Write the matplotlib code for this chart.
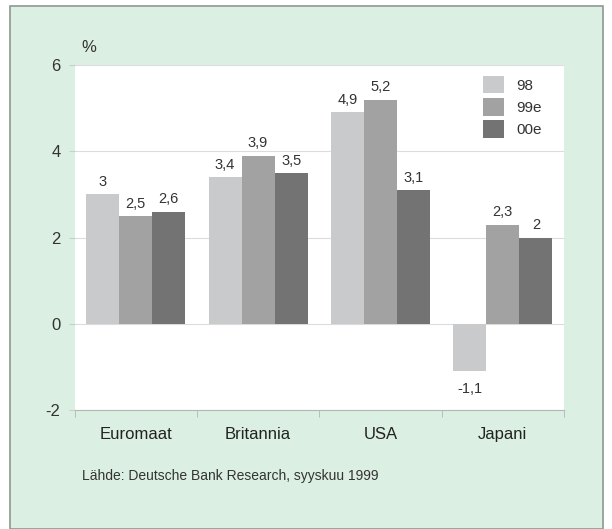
import matplotlib
matplotlib.use("Agg")
import matplotlib.pyplot as plt
import numpy as np
from matplotlib.patches import Rectangle

plt.rcParams['font.family'] = ['Liberation Sans', 'DejaVu Sans']

categories = ["Euromaat", "Britannia", "USA", "Japani"]
series_names = ["98", "99e", "00e"]
v98 = [3.0, 3.4, 4.9, -1.1]
v99 = [2.5, 3.9, 5.2, 2.3]
v00 = [2.6, 3.5, 3.1, 2.0]
labels98 = ["3", "3,4", "4,9", "-1,1"]
labels99 = ["2,5", "3,9", "5,2", "2,3"]
labels00 = ["2,6", "3,5", "3,1", "2"]
yticks = [-2, 0, 2, 4, 6]
source = "Lähde: Deutsche Bank Research, syyskuu 1999"

colors = ["#c9cacb", "#a2a2a2", "#737373"]
bg = "#dcefe3"

fig = plt.figure(figsize=(6.12, 5.29), dpi=100)
fig.patch.set_facecolor("white")
# outer panel
fig.patches.append(Rectangle((10/612, 0.0), 593/612, 1 - 6/529, transform=fig.transFigure,
                             facecolor=bg, edgecolor="#8f9893", linewidth=1.2, zorder=-10))

ax = fig.add_axes([74.5/612, 1 - 410/529, (564 - 74.5)/612, (410 - 65)/529])
ax.set_facecolor("white")

x = np.arange(len(categories))
w = 0.27
all_vals = [v98, v99, v00]
all_labels = [labels98, labels99, labels00]
for i, (vals, labs) in enumerate(zip(all_vals, all_labels)):
    xs = x + (i - 1) * w
    ax.bar(xs, vals, width=w, color=colors[i], label=series_names[i], zorder=3)
    for xi, v, lab in zip(xs, vals, labs):
        if v >= 0:
            ax.text(xi, v + 0.12, lab, ha="center", va="bottom", fontsize=10.5, color="#333333")
        else:
            ax.text(xi, v - 0.25, lab, ha="center", va="top", fontsize=10.5, color="#333333")

ax.set_xlim(-0.5, len(categories) - 0.5)
ax.set_ylim(-2, 6)
ax.set_yticks(yticks)
ax.set_yticklabels([str(t) for t in yticks], fontsize=12, color="#333333")
ax.yaxis.grid(True, color="#dcdcdc", linewidth=0.8, zorder=0)
ax.set_axisbelow(True)
ax.tick_params(axis="y", length=4, color="#c8d0cc", pad=6)

ax.set_xticks(x)
ax.set_xticklabels(categories, fontsize=12, color="#222222")
ax.tick_params(axis="x", length=0, pad=12)
ax.set_xticks(np.arange(-0.5, len(categories)), minor=True)
ax.tick_params(axis="x", which="minor", length=5, color="#b0b8b4")

for s in ["top", "right", "left"]:
    ax.spines[s].set_visible(False)
ax.spines["bottom"].set_color("#b0b8b4")

ax.text(0.015, 1.03, "%", transform=ax.transAxes, fontsize=12, color="#333333", ha="left", va="bottom")

leg = ax.legend(loc="upper right", bbox_to_anchor=(0.977, 1.0), frameon=False, fontsize=11,
                handlelength=1.4, handleheight=1.4, labelspacing=0.3, handletextpad=0.8,
                borderaxespad=0.3)
for t in leg.get_texts():
    t.set_color("#333333")

fig.text(82/612, 1 - 476/529, source, fontsize=10, color="#333333", ha="left", va="center")

fig.savefig("out.png", dpi=100)
